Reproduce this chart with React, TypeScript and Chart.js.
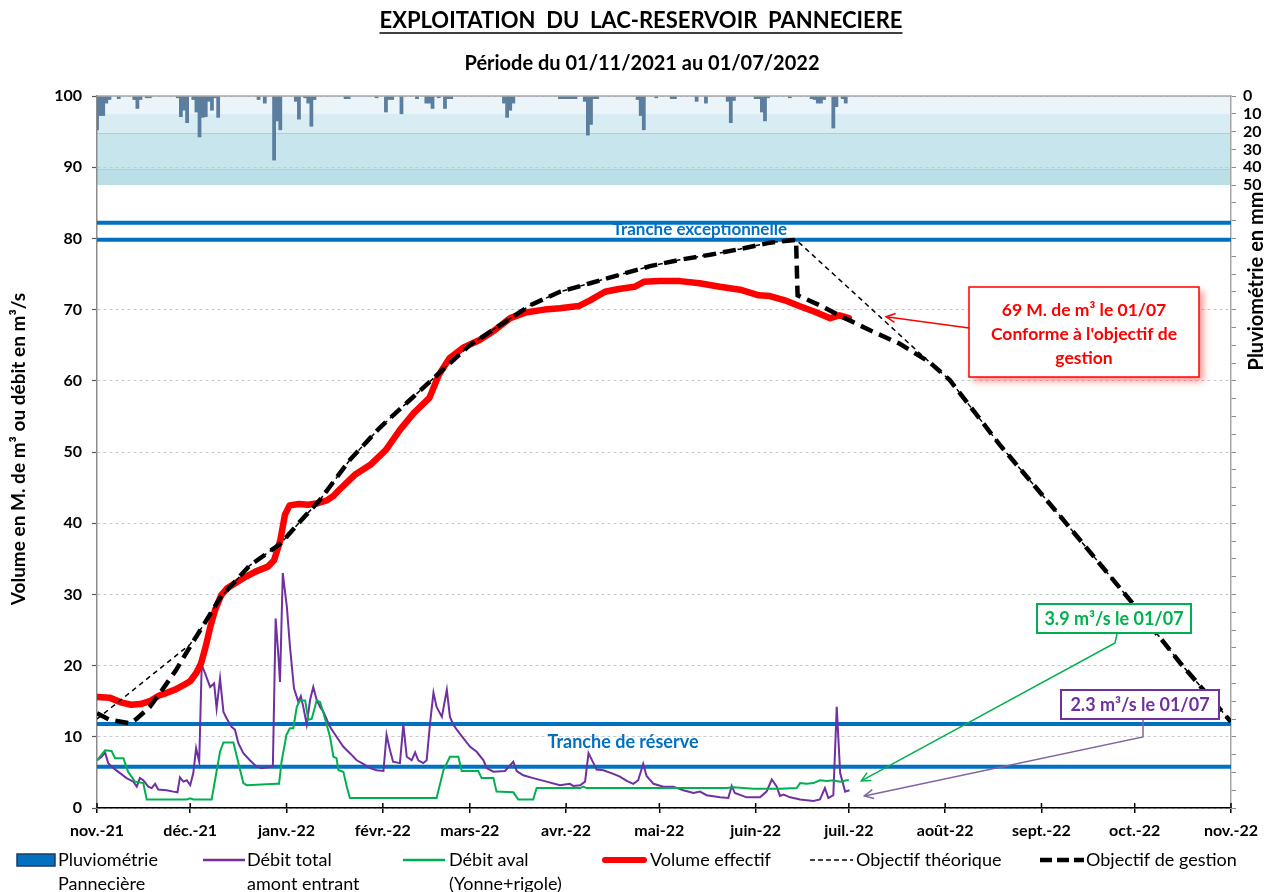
import React, { useEffect, useRef } from "react";
import { Chart, registerables } from "chart.js";

Chart.register(...registerables);

const FONT = "Lato, 'Open Sans', sans-serif";

// x axis: days since 01/11/2021
const monthTickDays = [0, 30, 61, 92, 120, 151, 181, 212, 242, 273, 304, 334, 365];
const monthTickLabels = ["nov.-21", "déc.-21", "janv.-22", "févr.-22", "mars-22", "avr.-22", "mai-22", "juin-22", "juil.-22", "août-22", "sept.-22", "oct.-22", "nov.-22"];

// Pluviométrie Pannecière (mm/day)
const rainDays = [0, 1, 2, 3, 4, 7, 12, 13, 14, 16, 17, 26, 27, 28, 29, 31, 32, 33, 34, 35, 36, 37, 38, 39, 52, 54, 57, 58, 59, 64, 65, 67, 68, 69, 70, 80, 81, 90, 93, 94, 95, 98, 103, 106, 107, 108, 110, 112, 113, 114, 131, 132, 133, 134, 149, 150, 151, 152, 153, 154, 157, 158, 159, 160, 161, 174, 175, 176, 180, 185, 186, 193, 196, 203, 204, 205, 212, 213, 214, 215, 216, 223, 230, 231, 232, 233, 234, 237, 238, 240, 241];
const rainMm = [19, 11, 11, 4, 2, 1.5, 2, 7, 2, 1, 1, 1, 11.6, 8, 15, 2, 9, 23, 12, 11.6, 3, 8, 1, 12, 2, 4, 36, 14, 19, 3, 13, 1, 4, 17, 2, 1.5, 1.5, 1, 9, 2, 2, 10, 1.5, 4, 4, 7, 1, 7, 1.5, 1.5, 4, 12, 8, 4, 1.5, 1.5, 1.5, 1.5, 1.5, 1.5, 3, 22, 16, 1.5, 1.5, 2, 11, 19, 1, 1.5, 1.5, 3, 4, 3, 15, 2.5, 1.5, 1.5, 9, 14, 1, 1, 1.5, 2, 4, 4, 2, 18, 6, 1.5, 4];

// Débit total amont entrant (m3/s)
const amontDays = [0, 1.5, 2.6, 3.6, 5.3, 7.4, 9.5, 11.7, 12.8, 13.8, 14.9, 16.5, 17.6, 18.7, 19.7, 22.4, 24.6, 25.9, 26.7, 27.8, 28.9, 30, 31, 31.9, 32.9, 33.7, 34.8, 36.4, 37.7, 38.5, 39.6, 40.7, 41.7, 43.3, 44.4, 45.5, 47.1, 49.2, 51.4, 53, 54.6, 56.6, 57.5, 58.4, 58.9, 59.8, 61.1, 62.1, 63.4, 64.8, 65.6, 66.4, 67.5, 68.6, 69.6, 70.7, 71.8, 72.9, 75, 77.1, 79.3, 81.4, 83.6, 85.7, 87.9, 90, 92.2, 93.2, 94.3, 95.3, 97.5, 98.6, 99.7, 101.3, 102.4, 103.4, 105, 106.1, 107.2, 108.3, 109.3, 111, 112.6, 113.6, 114.7, 115.8, 117.9, 120.1, 122.2, 124.4, 125.4, 127.6, 131.3, 134, 135.1, 137.2, 140.4, 144.7, 149, 152.2, 153.3, 155.5, 157.1, 158.2, 159.8, 160.8, 163, 166.2, 168.3, 170.5, 172.6, 174.2, 175.8, 176.9, 179.1, 182.3, 185.5, 188.7, 192, 194.1, 196.2, 200.5, 203.2, 204.3, 205.3, 209.1, 213.4, 215.5, 217.2, 218.8, 219.8, 221, 223.1, 226.3, 230.6, 232.7, 234.3, 235.4, 237, 238.1, 239.2, 240.8, 242.2];
const amontValues = [6.7, 7.2, 7.8, 6.3, 5.6, 4.9, 4.2, 3.7, 3.0, 4.2, 3.9, 3.0, 2.8, 3.4, 2.6, 2.5, 2.3, 2.2, 4.3, 3.7, 3.9, 3.2, 4.9, 8.4, 6.5, 20.1, 18.9, 17.0, 17.5, 14.0, 18.2, 13.5, 12.6, 11.4, 11.0, 9.1, 7.7, 6.7, 5.8, 5.6, 5.7, 5.8, 26.6, 21.3, 17.7, 33.0, 28.3, 22.7, 16.8, 14.9, 15.7, 14.2, 11.7, 15.2, 17.0, 15.2, 14.2, 13.5, 11.4, 10.0, 8.6, 7.7, 6.7, 6.2, 5.6, 5.3, 5.2, 10.3, 8.1, 6.5, 6.3, 11.7, 7.2, 6.7, 7.8, 6.7, 6.3, 6.7, 11.9, 16.2, 14.2, 12.8, 16.6, 12.8, 11.7, 11.0, 9.8, 8.6, 7.9, 6.7, 5.6, 5.1, 5.2, 6.5, 5.2, 4.6, 4.2, 3.7, 3.2, 3.4, 3.1, 3.2, 3.7, 7.7, 6.3, 5.4, 5.3, 4.8, 4.4, 3.8, 3.4, 3.9, 6.2, 4.5, 3.4, 3.0, 3.0, 2.5, 2.1, 2.3, 1.8, 1.5, 1.4, 3.1, 2.1, 1.5, 1.5, 2.3, 4.0, 3.0, 1.7, 1.9, 1.5, 1.2, 1.0, 1.2, 2.8, 1.4, 1.8, 14.2, 4.9, 2.3, 2.5];

// Débit aval (Yonne+rigole) (m3/s)
const avalDays = [0, 2.6, 4.7, 5.8, 8.5, 10, 12.2, 14.9, 16, 28.9, 30, 31, 36.9, 39.6, 40.7, 43.9, 47.1, 48.2, 57.8, 58.6, 59.4, 61, 62.1, 63.2, 64.3, 65.3, 67, 68, 69.1, 70.7, 71.8, 72.9, 75, 76.1, 77.1, 77.7, 79.3, 80.4, 81.4, 109.3, 111.5, 113.6, 116.3, 117.4, 122.7, 123.8, 127.6, 128.6, 134, 135.6, 140.4, 141.5, 155.5, 156.5, 157.6, 202.7, 204.8, 211.3, 219.8, 225.2, 226.3, 228.4, 230.6, 232.7, 234.9, 237, 239.2, 241.3, 242];
const avalValues = [6.7, 8.1, 8.0, 7.0, 7.0, 5.1, 3.7, 3.5, 1.2, 1.2, 1.35, 1.2, 1.2, 7.9, 9.2, 9.2, 3.5, 3.2, 3.4, 3.4, 6.5, 10.3, 11.2, 11.2, 14.2, 15.1, 15.1, 12.4, 12.5, 15.1, 14.9, 13.3, 10.0, 7.2, 7.0, 5.3, 5.1, 3.0, 1.4, 1.4, 5.3, 7.2, 7.2, 5.2, 5.2, 4.2, 4.2, 2.3, 2.2, 1.2, 1.2, 2.8, 2.8, 3.0, 2.8, 2.8, 2.9, 2.7, 2.7, 2.8, 3.5, 3.4, 3.5, 3.9, 3.8, 3.9, 3.7, 3.9, 3.9];

// Volume effectif (M. m3)
const volumeDays = [0, 4, 8, 11, 14, 17, 20, 22, 25, 28, 30, 32, 33.5, 35, 36.5, 38, 40, 42, 45, 48, 51, 55, 57, 59, 60.5, 62, 65, 68, 71, 74, 76, 78, 83, 88, 93, 97.5, 102, 107, 110, 113.5, 118, 123, 128, 133, 138, 144, 149, 155, 158.7, 163.5, 168, 173, 176, 181, 187.6, 194, 200.5, 207, 213, 216.6, 221.4, 226, 231, 236, 239, 242];
const volumeValues = [15.6, 15.5, 14.8, 14.5, 14.6, 15.0, 15.8, 16.1, 16.6, 17.3, 17.8, 19.0, 20.3, 22.7, 25.5, 27.8, 29.9, 30.9, 31.7, 32.5, 33.2, 33.9, 34.8, 37.6, 41.2, 42.5, 42.7, 42.6, 42.8, 43.2, 43.8, 44.7, 46.8, 48.2, 50.3, 53.1, 55.5, 57.6, 60.8, 63.2, 64.7, 65.7, 67.1, 68.8, 69.6, 70.0, 70.2, 70.5, 71.3, 72.5, 72.9, 73.2, 73.9, 74.0, 74.0, 73.7, 73.2, 72.8, 72.0, 71.9, 71.3, 70.5, 69.7, 68.8, 69.2, 68.8];

// Objectif théorique (M. m3)
const theoriqueDays = [0, 30, 34, 39.6, 49, 59, 65.3, 71.8, 81.4, 91, 100.7, 110.4, 120, 129.7, 139.4, 149, 158.7, 168.3, 178, 187.6, 197.3, 207, 216.6, 225, 268, 274.5, 290.6, 310, 332.5, 348.6, 365];
const theoriqueValues = [12.5, 23.0, 25.5, 29.5, 34.0, 37.1, 40.2, 43.3, 48.9, 53.4, 57.3, 61.2, 65.0, 67.8, 70.6, 72.5, 73.7, 74.9, 76.1, 77.0, 77.7, 78.5, 79.4, 79.8, 62.6, 60.1, 51.0, 41.0, 29.2, 20.4, 12.1];

// Objectif de gestion (M. m3)
const gestionDays = [0, 4, 10.6, 12.7, 17, 21, 25.5, 30, 34, 39.6, 49, 59, 65.3, 71.8, 81.4, 91, 100.7, 110.4, 120, 129.7, 139.4, 149, 158.7, 168.3, 178, 187.6, 197.3, 207, 216.6, 225, 225.5, 232.7, 240.7, 248.8, 258.4, 268, 274.5, 290.6, 310, 332.5, 348.6, 365];
const gestionValues = [13.3, 12.4, 11.9, 12.5, 14.2, 16.6, 19.4, 22.7, 25.5, 29.5, 34.0, 37.1, 40.2, 43.3, 48.9, 53.4, 57.3, 61.2, 65.0, 67.8, 70.6, 72.5, 73.7, 74.9, 76.1, 77.0, 77.7, 78.5, 79.4, 79.8, 72.0, 70.6, 68.8, 67.1, 65.2, 62.6, 60.1, 51.0, 41.0, 29.2, 20.4, 12.1];

// Limits of the tranches (M. m3)
const trancheExceptionnelle = [82.2, 79.8];
const trancheReserve = [11.8, 5.8];

// Pluviometry background bands (mm)
const rainBandEdges = [0, 10, 21, 41, 50];
const rainBandColors = ["#eaf4f9", "#d8ecf3", "#c7e5ed", "#badfe7"];

const toPts = (xs: number[], ys: number[]) => xs.map((x, i) => ({ x, y: ys[i] }));

function arrowPath(ctx: CanvasRenderingContext2D, pts: number[][], color: string, width: number) {
  ctx.save();
  ctx.strokeStyle = color;
  ctx.lineWidth = width;
  ctx.beginPath();
  ctx.moveTo(pts[0][0], pts[0][1]);
  for (let i = 1; i < pts.length; i++) ctx.lineTo(pts[i][0], pts[i][1]);
  ctx.stroke();
  const [x1, y1] = pts[pts.length - 2];
  const [x2, y2] = pts[pts.length - 1];
  const a = Math.atan2(y2 - y1, x2 - x1);
  const L = 9, W = 4.5;
  const c = Math.cos(a), s = Math.sin(a);
  ctx.beginPath();
  ctx.moveTo(x2 - L * c + W * s, y2 - L * s - W * c);
  ctx.lineTo(x2, y2);
  ctx.lineTo(x2 - L * c - W * s, y2 - L * s + W * c);
  ctx.stroke();
  ctx.restore();
}

const decorPlugin = {
  id: "decor",
  beforeDraw(chart: any) {
    const { ctx, chartArea } = chart;
    const y2 = chart.scales.y2;
    ctx.save();
    for (let i = 0; i < rainBandColors.length; i++) {
      const t = y2.getPixelForValue(rainBandEdges[i]);
      const b = y2.getPixelForValue(rainBandEdges[i + 1]);
      ctx.fillStyle = rainBandColors[i];
      ctx.fillRect(chartArea.left, t, chartArea.right - chartArea.left, b - t);
    }
    ctx.strokeStyle = "#a3d1de";
    ctx.lineWidth = 1;
    [21, 41].forEach((v) => {
      const yy = Math.round(y2.getPixelForValue(v)) + 0.5;
      ctx.beginPath();
      ctx.moveTo(chartArea.left, yy);
      ctx.lineTo(chartArea.right, yy);
      ctx.stroke();
    });
    ctx.restore();
  },
  afterDraw(chart: any) {
    const { ctx, chartArea } = chart;
    const xs = chart.scales.x;
    const ys = chart.scales.y;
    ctx.save();

    // top border
    ctx.strokeStyle = "#a6a6a6";
    ctx.lineWidth = 1.5;
    ctx.beginPath();
    ctx.moveTo(chartArea.left, chartArea.top);
    ctx.lineTo(chartArea.right, chartArea.top);
    ctx.stroke();

    // x tick marks crossing the axis
    ctx.strokeStyle = "#000";
    ctx.lineWidth = 1.5;
    monthTickDays.forEach((d) => {
      const px = xs.getPixelForValue(d);
      ctx.beginPath();
      ctx.moveTo(px, chartArea.bottom - 5);
      ctx.lineTo(px, chartArea.bottom);
      ctx.stroke();
    });

    // titles
    ctx.fillStyle = "#000";
    ctx.textAlign = "center";
    ctx.textBaseline = "middle";
    ctx.font = `bold 22px ${FONT}`;
    const title = "EXPLOITATION  DU  LAC-RESERVOIR  PANNECIERE";
    ctx.fillText(title, 641, 21);
    const tw = ctx.measureText(title).width;
    ctx.lineWidth = 1.5;
    ctx.beginPath();
    ctx.moveTo(641 - tw / 2, 33);
    ctx.lineTo(641 + tw / 2, 33);
    ctx.stroke();
    ctx.font = `bold 20px ${FONT}`;
    ctx.fillText("Période du 01/11/2021 au 01/07/2022", 642, 64);

    // axis titles
    ctx.font = `bold 19px ${FONT}`;
    ctx.save();
    ctx.translate(19, 449);
    ctx.rotate(-Math.PI / 2);
    ctx.fillText("Volume en M. de m³ ou débit en m³/s", 0, 0);
    ctx.restore();
    ctx.save();
    ctx.translate(1257, 281);
    ctx.rotate(-Math.PI / 2);
    ctx.font = `bold 20px ${FONT}`;
    ctx.fillText("Pluviométrie en mm", 0, 0);
    ctx.restore();

    // tranche labels
    ctx.fillStyle = "#0070c0";
    ctx.font = `bold 17px ${FONT}`;
    ctx.fillText("Tranche exceptionnelle", xs.getPixelForValue(194), ys.getPixelForValue(81.25));
    ctx.font = `bold 18px ${FONT}`;
    ctx.fillText("Tranche de réserve", xs.getPixelForValue(169.3), ys.getPixelForValue(9.2));

    // red callout
    ctx.save();
    ctx.shadowColor = "rgba(255,0,0,0.45)";
    ctx.shadowBlur = 7;
    ctx.shadowOffsetX = 4;
    ctx.shadowOffsetY = 4;
    ctx.fillStyle = "#fff";
    ctx.fillRect(969, 287, 230, 90);
    ctx.restore();
    ctx.strokeStyle = "#ff0000";
    ctx.lineWidth = 1.5;
    ctx.strokeRect(969, 287, 230, 90);
    ctx.fillStyle = "#ff0000";
    ctx.font = `bold 17.5px ${FONT}`;
    ctx.fillText("69 M. de m³ le 01/07", 1084, 310);
    ctx.fillText("Conforme à l'objectif de", 1084, 334);
    ctx.fillText("gestion", 1084, 358);
    arrowPath(ctx, [[969, 328], [xs.getPixelForValue(254), ys.getPixelForValue(69)]], "#ff0000", 1.5);

    // green callout
    ctx.font = `bold 18px ${FONT}`;
    ctx.fillStyle = "#fff";
    ctx.fillRect(1037, 604, 154, 29);
    ctx.strokeStyle = "#00b050";
    ctx.lineWidth = 2;
    ctx.strokeRect(1037, 604, 154, 29);
    ctx.fillStyle = "#00b050";
    ctx.fillText("3.9 m³/s le 01/07", 1114, 619);
    arrowPath(ctx, [[1117, 634], [1115, 643], [xs.getPixelForValue(246), ys.getPixelForValue(3.8)]], "#00b050", 1.5);

    // purple callout
    ctx.fillStyle = "#fff";
    ctx.fillRect(1061, 690, 158, 29);
    ctx.strokeStyle = "#7030a0";
    ctx.lineWidth = 2;
    ctx.strokeRect(1061, 690, 158, 29);
    ctx.fillStyle = "#7030a0";
    ctx.fillText("2.3 m³/s le 01/07", 1140, 705);
    arrowPath(ctx, [[1143, 720], [1143, 737], [xs.getPixelForValue(247), ys.getPixelForValue(1.7)]], "#8064a2", 1.5);

    // legend
    const l1 = 860, l2 = 884;
    ctx.font = `18px ${FONT}`;
    ctx.textAlign = "left";
    // Pluviométrie
    ctx.fillStyle = "#0070c0";
    ctx.fillRect(17, 854, 38, 12);
    ctx.strokeStyle = "#1f3864";
    ctx.lineWidth = 1.5;
    ctx.strokeRect(17, 854, 38, 12);
    ctx.fillStyle = "#000";
    ctx.fillText("Pluviométrie", 58, l1);
    ctx.fillText("Pannecière", 58, l2);
    // Débit total
    ctx.strokeStyle = "#7030a0";
    ctx.lineWidth = 2.5;
    ctx.beginPath(); ctx.moveTo(203, l1); ctx.lineTo(245, l1); ctx.stroke();
    ctx.fillText("Débit total", 247, l1);
    ctx.fillText("amont entrant", 247, l2);
    // Débit aval
    ctx.strokeStyle = "#00b050";
    ctx.beginPath(); ctx.moveTo(403, l1); ctx.lineTo(445, l1); ctx.stroke();
    ctx.fillText("Débit aval", 449, l1);
    ctx.fillText("(Yonne+rigole)", 449, l2);
    // Volume effectif
    ctx.strokeStyle = "#ff0000";
    ctx.lineWidth = 6;
    ctx.lineCap = "round";
    ctx.beginPath(); ctx.moveTo(605, l1); ctx.lineTo(644, l1); ctx.stroke();
    ctx.lineCap = "butt";
    ctx.fillText("Volume effectif", 650, l1);
    // Objectif théorique
    ctx.strokeStyle = "#000";
    ctx.lineWidth = 1.5;
    ctx.setLineDash([5, 3]);
    ctx.beginPath(); ctx.moveTo(810, l1); ctx.lineTo(853, l1); ctx.stroke();
    ctx.setLineDash([]);
    ctx.fillText("Objectif théorique", 856, l1);
    // Objectif de gestion
    ctx.lineWidth = 4.5;
    ctx.setLineDash([12, 5]);
    ctx.beginPath(); ctx.moveTo(1040, l1); ctx.lineTo(1084, l1); ctx.stroke();
    ctx.setLineDash([]);
    ctx.fillText("Objectif de gestion", 1086, l1);

    ctx.restore();
  },
};

export default function App() {
  const ref = useRef<HTMLCanvasElement>(null);
  useEffect(() => {
    document.body.style.margin = "0";
    let chart: any = null;
    let cancelled = false;
    const build = () => {
      if (cancelled || !ref.current) return;
      const tickFont = { family: FONT, size: 16, weight: "bold" as const };
      const hLine = (v: number) => ({
        type: "line" as const,
        data: [{ x: 0, y: v }, { x: 365, y: v }],
        borderColor: "#0070c0",
        borderWidth: 4,
        pointRadius: 0,
        order: 7,
        yAxisID: "y",
      });
      chart = new Chart(ref.current, {
        type: "line",
        data: {
          datasets: [
            {
              label: "Objectif de gestion",
              data: toPts(gestionDays, gestionValues),
              borderColor: "#000",
              borderWidth: 4.5,
              borderDash: [13, 7],
              pointRadius: 0,
              order: 0,
              yAxisID: "y",
            },
            {
              label: "Objectif théorique",
              data: toPts(theoriqueDays, theoriqueValues),
              borderColor: "#000",
              borderWidth: 1.5,
              borderDash: [5, 4],
              pointRadius: 0,
              order: 1,
              yAxisID: "y",
            },
            {
              label: "Volume effectif",
              data: toPts(volumeDays, volumeValues),
              borderColor: "#ff0000",
              borderWidth: 6.5,
              borderCapStyle: "round",
              borderJoinStyle: "round",
              pointRadius: 0,
              order: 2,
              yAxisID: "y",
            },
            {
              label: "Débit aval (Yonne+rigole)",
              data: toPts(avalDays, avalValues),
              borderColor: "#00b050",
              borderWidth: 2,
              pointRadius: 0,
              order: 3,
              yAxisID: "y",
            },
            {
              label: "Débit total amont entrant",
              data: toPts(amontDays, amontValues),
              borderColor: "#7030a0",
              borderWidth: 2,
              pointRadius: 0,
              order: 4,
              yAxisID: "y",
            },
            {
              type: "bar",
              label: "Pluviométrie Pannecière",
              data: toPts(rainDays, rainMm),
              backgroundColor: "#5b7d9e",
              borderWidth: 0,
              barPercentage: 1,
              categoryPercentage: 1,
              order: 5,
              yAxisID: "y2",
            } as any,
            hLine(trancheExceptionnelle[0]),
            hLine(trancheExceptionnelle[1]),
            hLine(trancheReserve[0]),
            hLine(trancheReserve[1]),
          ],
        },
        options: {
          responsive: false,
          animation: false,
          devicePixelRatio: 1,
          layout: { padding: { top: 96, left: 0, right: 0, bottom: 0 } },
          plugins: { legend: { display: false }, tooltip: { enabled: false }, title: { display: false } },
          elements: { line: { tension: 0 } },
          scales: {
            x: {
              type: "linear",
              min: 0,
              max: 365,
              offset: false,
              afterBuildTicks: (s: any) => {
                s.ticks = monthTickDays.map((v) => ({ value: v }));
              },
              afterFit: (s: any) => {
                s.height = 84;
              },
              ticks: {
                autoSkip: false,
                maxRotation: 0,
                padding: 8,
                color: "#000",
                font: tickFont,
                callback: (v: any) => monthTickLabels[monthTickDays.indexOf(Number(v))] ?? "",
              },
              grid: { offset: false, drawOnChartArea: false, tickLength: 5, color: "#000", lineWidth: 1.5 },
              border: { color: "#000", width: 1.5 },
            },
            y: {
              position: "left",
              min: 0,
              max: 100,
              afterBuildTicks: (s: any) => {
                const t = [];
                for (let v = 0; v <= 100; v += 10) t.push({ value: v });
                s.ticks = t;
              },
              afterFit: (s: any) => {
                s.width = 97;
              },
              ticks: { padding: 10, color: "#000", font: tickFont },
              grid: { color: "#c8c8c8", lineWidth: 1, tickLength: 5, tickColor: "#595959", tickWidth: 1.2 },
              border: { color: "#8c8c8c", width: 1.5, dash: [3, 3] },
            },
            y2: {
              position: "right",
              reverse: true,
              min: 0,
              max: 400,
              afterBuildTicks: (s: any) => {
                const t = [];
                for (let v = 0; v <= 400; v += 10) t.push({ value: v });
                s.ticks = t;
              },
              afterFit: (s: any) => {
                s.width = 37;
              },
              ticks: {
                autoSkip: false,
                padding: 7,
                color: "#000",
                font: tickFont,
                callback: (v: any) => (Number(v) <= 50 ? String(v) : ""),
              },
              grid: { drawOnChartArea: false, tickLength: 5, color: "#8c8c8c" },
              border: { color: "#a6a6a6", width: 1.5 },
            },
          },
        } as any,
        plugins: [decorPlugin],
      } as any);
    };
    const fontsApi = (document as any).fonts;
    if (fontsApi && fontsApi.load) {
      Promise.all([fontsApi.load(`bold 16px Lato`), fontsApi.load(`16px Lato`)]).then(build, build);
    } else {
      build();
    }
    return () => {
      cancelled = true;
      if (chart) chart.destroy();
    };
  }, []);
  return (
    <div style={{ width: 1268, height: 892, position: "relative", background: "#fff" }}>
      <canvas ref={ref} width={1268} height={892} style={{ display: "block" }} />
    </div>
  );
}
